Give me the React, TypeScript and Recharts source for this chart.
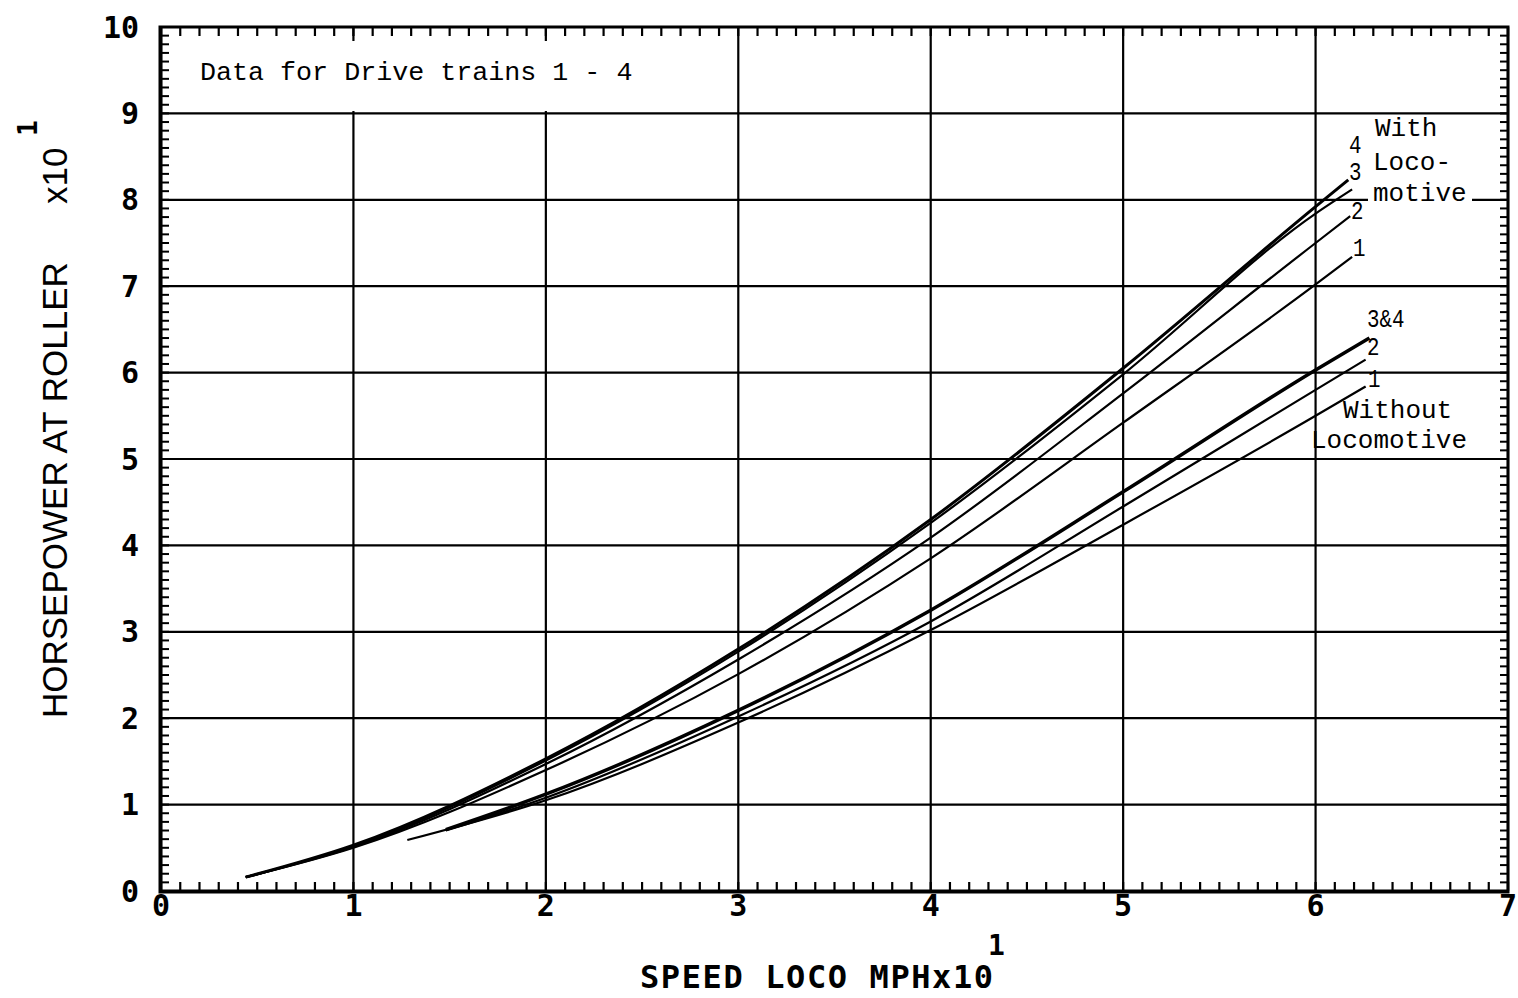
import { LineChart, Line, XAxis, YAxis, CartesianGrid } from 'recharts';

const X_TICKS = [0, 1, 2, 3, 4, 5, 6, 7];
const Y_TICKS = [0, 1, 2, 3, 4, 5, 6, 7, 8, 9, 10];
const MINOR_X = Array.from({ length: 71 }, (_, i) => i / 10);
const MINOR_Y = Array.from({ length: 101 }, (_, i) => i / 10);
const X_MAX = 7;
const Y_MAX = 10;

// with locomotive, drive trains 1-4
const WITH_4_SPEED = [0.44, 1, 2, 3, 4, 5, 6, 6.17];
const WITH_4_HP = [0.16, 0.53, 1.53, 2.8, 4.3, 6.05, 7.92, 8.23];
const WITH_3_SPEED = [0.44, 1, 2, 3, 4, 5, 6, 6.19];
const WITH_3_HP = [0.16, 0.52, 1.51, 2.77, 4.26, 5.98, 7.84, 8.12];
const WITH_2_SPEED = [0.44, 1, 2, 3, 4, 5, 6, 6.18];
const WITH_2_HP = [0.16, 0.51, 1.47, 2.68, 4.09, 5.76, 7.5, 7.81];
const WITH_1_SPEED = [0.44, 1, 2, 3, 4, 5, 6, 6.19];
const WITH_1_HP = [0.16, 0.5, 1.4, 2.51, 3.85, 5.42, 7.02, 7.34];

// without locomotive
const WO_34_SPEED = [1.48, 2, 3, 4, 5, 6, 6.28];
const WO_34_HP = [0.71, 1.12, 2.09, 3.25, 4.62, 6.03, 6.4];
const WO_2_SPEED = [1.48, 2, 3, 4, 5, 6, 6.26];
const WO_2_HP = [0.7, 1.08, 2.02, 3.12, 4.45, 5.8, 6.15];
const WO_1_SPEED = [1.28, 2, 3, 4, 5, 6, 6.26];
const WO_1_HP = [0.59, 1.05, 1.95, 3.02, 4.24, 5.5, 5.84];

const toRows = (speed: number[], hp: number[]) => speed.map((s, i) => ({ speed: s, hp: hp[i] }));

const SERIES = [
  { name: 'with4', rows: toRows(WITH_4_SPEED, WITH_4_HP), width: 3 },
  { name: 'with3', rows: toRows(WITH_3_SPEED, WITH_3_HP), width: 2.2 },
  { name: 'with2', rows: toRows(WITH_2_SPEED, WITH_2_HP), width: 2.2 },
  { name: 'with1', rows: toRows(WITH_1_SPEED, WITH_1_HP), width: 2.2 },
  { name: 'wo34', rows: toRows(WO_34_SPEED, WO_34_HP), width: 3.5 },
  { name: 'wo2', rows: toRows(WO_2_SPEED, WO_2_HP), width: 2.2 },
  { name: 'wo1', rows: toRows(WO_1_SPEED, WO_1_HP), width: 2.2 },
];

const TICK_FONT = '"DejaVu Sans Mono", monospace';
const TYPE_FONT = '"Liberation Mono", "Courier New", monospace';
const SANS_FONT = '"Liberation Sans", Arial, sans-serif';

const CURVE_LABELS = [
  { t: '4', x: 1349, y: 153 },
  { t: '3', x: 1349, y: 180 },
  { t: '2', x: 1351, y: 219 },
  { t: '1', x: 1353, y: 256 },
  { t: '3&4', x: 1367, y: 327 },
  { t: '2', x: 1367, y: 355 },
  { t: '1', x: 1368, y: 387 },
];

// chart box
const W = 1518;
const H = 998;
const MARGIN = { top: 27, right: 10, bottom: 106, left: 160 };
const PLOT_TOP = MARGIN.top;
const PLOT_RIGHT = W - MARGIN.right;
const PLOT_W = W - MARGIN.left - MARGIN.right;
const PLOT_H = H - MARGIN.top - MARGIN.bottom;

const isMajor = (v: number) => Math.abs(v - Math.round(v)) < 1e-6;

function BottomTick({ x, y, payload }: any) {
  const v = payload.value;
  return (
    <g>
      <line x1={x} x2={x} y1={y} y2={y - 9} stroke="#000" strokeWidth={2.2} />
      <line x1={x} x2={x} y1={PLOT_TOP} y2={PLOT_TOP + 9} stroke="#000" strokeWidth={2.2} />
      {isMajor(v) && (
        <text x={x} y={y + 4} dy="0.71em" textAnchor="middle" fontFamily={TICK_FONT} fontWeight={700} fontSize={30} fill="#000">
          {Math.round(v)}
        </text>
      )}
    </g>
  );
}

function LeftTick({ x, y, payload }: any) {
  const v = payload.value;
  return (
    <g>
      <line x1={x} x2={x + 8} y1={y} y2={y} stroke="#000" strokeWidth={2} />
      <line x1={PLOT_RIGHT} x2={PLOT_RIGHT - 8} y1={y} y2={y} stroke="#000" strokeWidth={2} />
      {isMajor(v) && (
        <text x={x - 22} y={y} dy="0.355em" textAnchor="end" fontFamily={TICK_FONT} fontWeight={700} fontSize={30} fill="#000">
          {Math.round(v)}
        </text>
      )}
    </g>
  );
}

// grid only at the whole-number ticks, placed from the plot offset
const gridX = (args: any) => {
  const o = args?.offset ?? {};
  const left = o.left ?? MARGIN.left;
  const width = o.width ?? PLOT_W;
  return X_TICKS.map((v) => left + (v / X_MAX) * width);
};
const gridY = (args: any) => {
  const o = args?.offset ?? {};
  const top = o.top ?? MARGIN.top;
  const height = o.height ?? PLOT_H;
  return Y_TICKS.map((v) => top + height - (v / Y_MAX) * height);
};

export default function App() {
  return (
    <div style={{ position: 'absolute', left: 0, top: 0, width: W, height: H, background: '#fff' }}>
      <LineChart width={W} height={H} margin={MARGIN}>
        <CartesianGrid stroke="#000" strokeWidth={2.2} verticalCoordinatesGenerator={gridX} horizontalCoordinatesGenerator={gridY} />
        <XAxis
          type="number"
          dataKey="speed"
          domain={[0, X_MAX]}
          ticks={MINOR_X}
          interval={0}
          height={1}
          tickLine={false}
          tickSize={0}
          tickMargin={0}
          axisLine={{ stroke: '#000', strokeWidth: 3 }}
          tick={<BottomTick />}
          allowDataOverflow
        />
        <YAxis
          type="number"
          domain={[0, Y_MAX]}
          ticks={MINOR_Y}
          interval={0}
          width={1}
          tickLine={false}
          tickSize={0}
          tickMargin={0}
          axisLine={{ stroke: '#000', strokeWidth: 3 }}
          tick={<LeftTick />}
          allowDataOverflow
        />
        {SERIES.map((s) => (
          <Line
            key={s.name}
            data={s.rows}
            dataKey="hp"
            type="monotone"
            stroke="#000"
            strokeWidth={s.width}
            dot={false}
            isAnimationActive={false}
          />
        ))}
      </LineChart>
      <svg width={W} height={H} style={{ position: 'absolute', left: 0, top: 0, pointerEvents: 'none' }}>
        <rect x={MARGIN.left} y={PLOT_TOP} width={PLOT_W} height={PLOT_H} fill="none" stroke="#000" strokeWidth={3} />
        {/* blank box behind the caption, as on the original sheet */}
        <rect x={171} y={41} width={556} height={70} fill="#fff" />
        <text x={200} y={80} fontFamily={TYPE_FONT} fontSize={26.7} fill="#000">
          Data for Drive trains 1 - 4
        </text>
        <text x={1375} y={136} fontFamily={TYPE_FONT} fontSize={26} fill="#000">With</text>
        <text x={1373} y={170} fontFamily={TYPE_FONT} fontSize={26} fill="#000">Loco-</text>
        <rect x={1368} y={190} width={104} height={16} fill="#fff" />
        <text x={1373} y={201} fontFamily={TYPE_FONT} fontSize={26} fill="#000">motive</text>
        <text x={1343} y={418} fontFamily={TYPE_FONT} fontSize={26} fill="#000">Without</text>
        <text x={1311} y={448} fontFamily={TYPE_FONT} fontSize={26} fill="#000">Locomotive</text>
        {CURVE_LABELS.map((l, i) => (
          <text
            key={i}
            transform={`translate(${l.x},${l.y}) scale(0.8,1)`}
            fontFamily={TYPE_FONT}
            fontSize={26}
            fill="#000"
          >
            {l.t}
          </text>
        ))}
        <text transform="translate(67,718) rotate(-90)" fontFamily={SANS_FONT} fontSize={35} fill="#000">
          HORSEPOWER AT ROLLER
        </text>
        <text transform="translate(67,204) rotate(-90)" fontFamily={SANS_FONT} fontSize={35} fill="#000">
          x10
        </text>
        <text transform="translate(37,136) rotate(-90)" fontFamily={TICK_FONT} fontWeight={700} fontSize={26} fill="#000">
          1
        </text>
        <text x={640} y={988} fontFamily={TICK_FONT} fontWeight={700} fontSize={32} letterSpacing={1.6} fill="#000">
          SPEED LOCO MPHx10
        </text>
        <text x={988} y={955} fontFamily={TICK_FONT} fontWeight={700} fontSize={28} fill="#000">
          1
        </text>
      </svg>
    </div>
  );
}
